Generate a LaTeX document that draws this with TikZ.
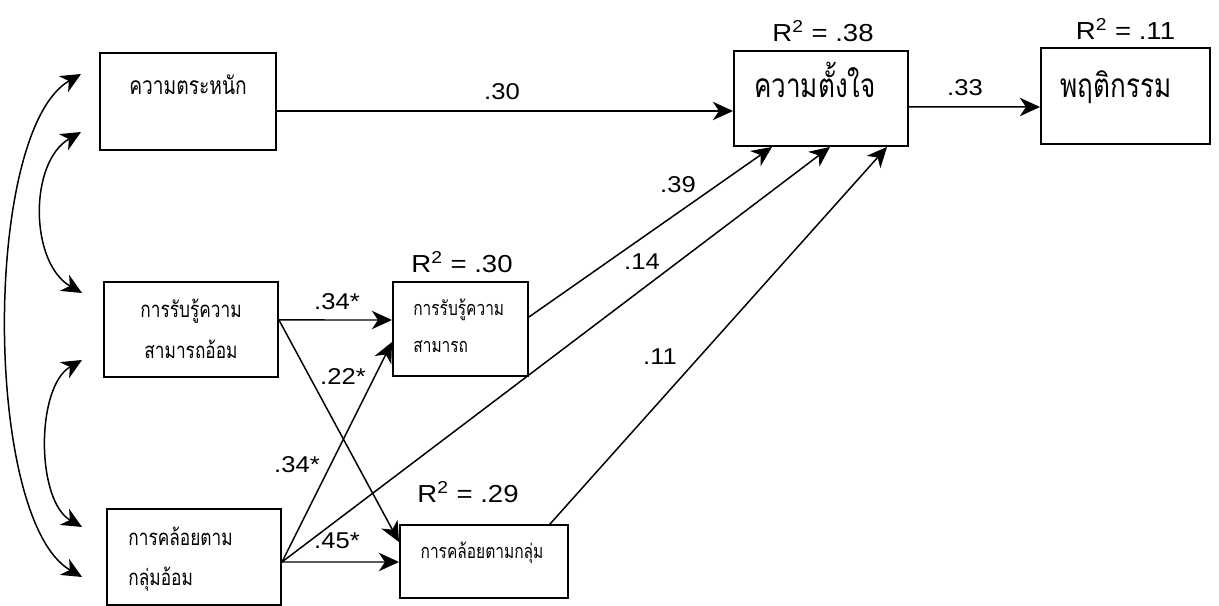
\documentclass[tikz,border=0pt]{standalone}
\usepackage{fontspec}
\setmainfont{Liberation Sans}
\newfontfamily\thaifont[Script=Thai, FakeStretch=0.78]{Loma}
\newfontfamily\numfont[FakeStretch=1.12]{Liberation Sans}
\usetikzlibrary{arrows.meta}

\begin{document}
\begin{tikzpicture}[
  box/.style={draw, line width=1.1pt, inner sep=0pt},
  eff/.style={line width=0.85pt, -{Stealth[length=11.5pt, width=10.5pt, inset=3.5pt]}},
  cov/.style={line width=0.85pt, {Stealth[length=11.5pt, width=10.5pt, inset=3.5pt]}-{Stealth[length=11.5pt, width=10.5pt, inset=3.5pt]}},
  coef/.style={font=\numfont\fontsize{13}{15}\selectfont, inner sep=0pt},
  rsq/.style={font=\numfont\fontsize{14}{16}\selectfont, inner sep=0pt},
  thbig/.style={font=\thaifont\fontsize{19}{22}\selectfont, inner sep=0pt, text height=1ex, text depth=0pt},
  thmid/.style={font=\thaifont\fontsize{14}{16}\selectfont, inner sep=0pt, text height=1ex, text depth=0pt},
  thsmall/.style={font=\thaifont\fontsize{12.6}{15}\selectfont, inner sep=0pt, text height=1ex, text depth=0pt},
  thtiny/.style={font=\thaifont\fontsize{11.3}{13}\selectfont, inner sep=0pt, text height=1ex, text depth=0pt}
]
  \useasboundingbox (0,0) rectangle (24.38,12.12);

  % กล่องตัวแปรภายนอก
  \node[box, minimum width=3.52cm, minimum height=1.94cm] (aware) at (3.76,10.09) {};
  \node[box, minimum width=3.48cm, minimum height=1.90cm] (abil)  at (3.82,5.53) {};
  \node[box, minimum width=3.48cm, minimum height=1.92cm] (norm)  at (3.88,0.98) {};
  % ตัวแปรคั่นกลาง
  \node[box, minimum width=2.70cm, minimum height=1.88cm] (abilm) at (9.21,5.54) {};
  \node[box, minimum width=3.36cm, minimum height=1.46cm] (normm) at (9.68,0.89) {};
  % ความตั้งใจ และ พฤติกรรม
  \node[box, minimum width=3.48cm, minimum height=1.90cm] (intent) at (16.42,10.15) {};
  \node[box, minimum width=3.38cm, minimum height=1.92cm] (behav)  at (22.51,10.20) {};

  % ข้อความในกล่อง
  \node[thmid] (awaretxt) at ([yshift=0.24cm]aware.center) {ความตระหนัก};
  \node[thsmall] (abiltxt1) at (3.82,5.86) {การรับรู้ความ};
  \node[thsmall] (abiltxt2) at (3.82,5.04) {สามารถอ้อม};
  \node[thsmall, anchor=west] (normtxt1) at (2.56,1.30) {การคล้อยตาม};
  \node[thsmall, anchor=west] (normtxt2) at (2.56,0.50) {กลุ่มอ้อม};
  \node[thtiny, anchor=west] (abilmtxt1) at (8.26,5.90) {การรับรู้ความ};
  \node[thtiny, anchor=west] (abilmtxt2) at (8.26,5.16) {สามารถ};
  \node[thtiny] (normmtxt) at (9.64,1.04) {การคล้อยตามกลุ่ม};
  \node[thbig] (intenttxt) at (16.30,10.26) {ความตั้งใจ};
  \node[thbig] (behavtxt)  at (22.32,10.26) {พฤติกรรม};

  % R^2
  \node[rsq] (r2int)   at ([xshift=0.04cm, yshift=0.38cm]intent.north) {R\textsuperscript{2} = .38};
  \node[rsq] (r2behav) at ([yshift=0.36cm]behav.north) {R\textsuperscript{2} = .11};
  \node[rsq] (r2abilm) at ([xshift=0.03cm, yshift=0.38cm]abilm.north) {R\textsuperscript{2} = .30};
  \node[rsq] (r2normm) at ([xshift=-0.32cm, yshift=0.64cm]normm.north) {R\textsuperscript{2} = .29};

  % เส้นอิทธิพล
  \draw[eff] ([yshift=-0.19cm]aware.east) -- ([yshift=-0.25cm]intent.west);
  \draw[eff] ([yshift=-0.17cm]intent.east) -- ([yshift=-0.22cm]behav.west);
  \draw[eff] ([yshift=0.19cm]abil.east) -- ([yshift=0.18cm]abilm.west);
  \draw[eff] ([yshift=0.19cm]abil.east) -- ([yshift=0.39cm]normm.west);
  \draw[eff] ([yshift=-0.10cm]norm.east) -- ([yshift=-0.26cm]abilm.west);
  \draw[eff] ([yshift=-0.10cm]norm.east) -- ([yshift=-0.01cm]normm.west);
  \draw[eff] ([yshift=-0.10cm]norm.east) -- ([xshift=0.18cm]intent.south);
  \draw[eff] ([yshift=0.24cm]abilm.east) -- ([xshift=-0.98cm]intent.south);
  \draw[eff] ([xshift=1.32cm]normm.north) -- ([xshift=1.32cm]intent.south);

  % ค่าสัมประสิทธิ์
  \node[coef] (c30) at (10.04,10.28) {.30};
  \node[coef] (c33) at (19.30,10.36) {.33};
  \node[coef] (c34a) at (6.74,6.08) {.34*};
  \node[coef] (c22) at (6.86,4.58) {.22*};
  \node[coef] (c34b) at (5.94,2.82) {.34*};
  \node[coef] (c45) at (6.74,1.30) {.45*};
  \node[coef] (c39) at (13.56,8.42) {.39};
  \node[coef] (c14) at (12.84,6.88) {.14};
  \node[coef] (c11) at (13.20,4.98) {.11};

  % ความสัมพันธ์ระหว่างตัวแปรภายนอก
  \draw[cov] ([xshift=-0.36cm, yshift=-0.61cm]aware.west) to[out=210, in=150, looseness=0.96] ([xshift=-0.42cm, yshift=0.73cm]abil.west);
  \draw[cov] ([xshift=-0.42cm, yshift=-0.61cm]abil.west) to[out=210, in=150, looseness=0.82] ([xshift=-0.48cm, yshift=0.60cm]norm.west);
  \draw[cov] ([xshift=-0.36cm, yshift=0.55cm]aware.west) to[out=210, in=150, looseness=0.58] ([xshift=-0.48cm, yshift=-0.40cm]norm.west);
\end{tikzpicture}
\end{document}
